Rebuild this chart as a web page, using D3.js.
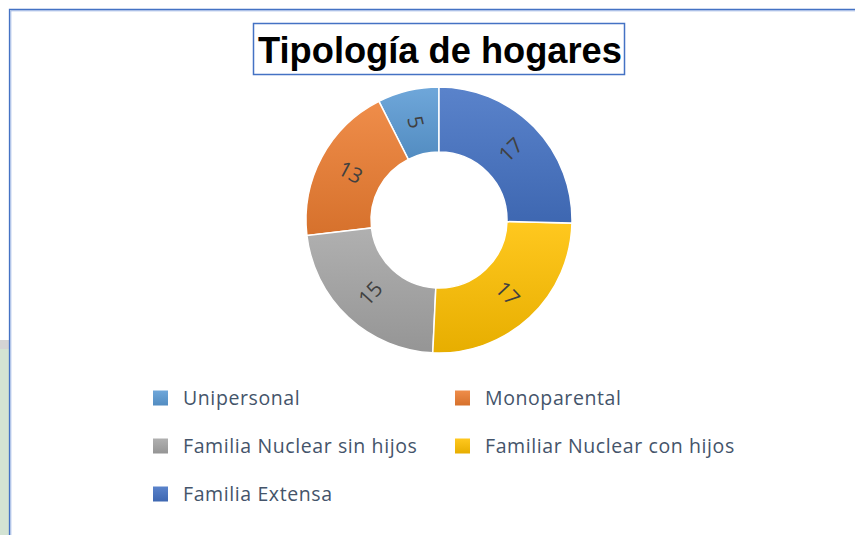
<!DOCTYPE html>
<html>
<head>
<meta charset="utf-8">
<script src="https://cdn.jsdelivr.net/npm/d3@7"></script>
<style>
  body { margin: 0; background: #fff; }
  svg { display: block; }
</style>
</head>
<body>
<svg id="chart"></svg>
<script>
const title = "Tipología de hogares";
const categories = ["Unipersonal", "Monoparental", "Familia Nuclear sin hijos", "Familiar Nuclear con hijos", "Familia Extensa"];
const values = [5, 13, 15, 17, 17];
const palette = ["#5b9bd5", "#ed7d31", "#a5a5a5", "#ffc000", "#4472c4"];

const width = 855, height = 535;
const cx = 439, cy = 220;
const outerR = 133, innerR = 68;

const svg = d3.select("#chart").attr("width", width).attr("height", height);

// frame of the chart area
svg.append("rect").attr("x", 0).attr("y", 348).attr("width", 9).attr("height", 187).attr("fill", "#d3e3d3");
svg.append("rect").attr("x", 0).attr("y", 340).attr("width", 9).attr("height", 9).attr("fill", "#d4d4d4");
svg.append("path").attr("d", `M9.5,${height} V9.5 H${width}`).attr("fill", "none").attr("stroke", "#4472c4").attr("stroke-width", 1.3);
svg.append("path").attr("d", `M10.8,${height} V10.8 H${width}`).attr("fill", "none").attr("stroke", "#9db5e3").attr("stroke-width", 1);

// gradients
const defs = svg.append("defs");
palette.forEach((c, i) => {
    const g = defs.append("linearGradient").attr("id", "grad" + i)
        .attr("x1", 0).attr("y1", 0).attr("x2", 0).attr("y2", 1);
    g.append("stop").attr("offset", "0%").attr("stop-color", d3.interpolateRgb(c, "#fff")(0.12));
    g.append("stop").attr("offset", "100%").attr("stop-color", d3.color(c).darker(0.28));
});

// title
const tg = svg.append("g");
const tt = tg.append("text")
    .attr("x", 440).attr("y", 63)
    .attr("text-anchor", "middle")
    .attr("font-family", "Liberation Sans, Arial, sans-serif")
    .attr("font-weight", "bold")
    .attr("font-size", 34)
    .attr("fill", "#000")
    .text(title);
const tw = tt.node().getComputedTextLength();
tt.attr("font-size", 34 * 364 / tw);
tg.insert("rect", "text")
    .attr("x", 253.5).attr("y", 23.5).attr("width", 371).attr("height", 51)
    .attr("fill", "#fff").attr("stroke", "#4472c4").attr("stroke-width", 1.5);

// donut
const pie = d3.pie().sort(null).startAngle(0).endAngle(-2 * Math.PI);
const arcs = pie(values);
const arc = d3.arc().innerRadius(innerR).outerRadius(outerR);

const donut = svg.append("g").attr("transform", `translate(${cx},${cy})`);
donut.selectAll("path.slice")
    .data(arcs)
    .join("path")
    .attr("class", "slice")
    .attr("d", arc)
    .attr("fill", (d, i) => `url(#grad${i})`)
    .attr("stroke", "#fff")
    .attr("stroke-width", 1.5);

donut.selectAll("text.lbl")
    .data(arcs)
    .join("text")
    .attr("class", "lbl")
    .attr("transform", d => {
        const [x, y] = arc.centroid(d);
        let a = ((d.startAngle + d.endAngle) / 2) * 180 / Math.PI;
        while (a <= -180) a += 360;
        while (a > 180) a -= 360;
        const rot = a > 0 ? a - 90 : a + 90;
        return `translate(${x},${y}) rotate(${rot})`;
    })
    .attr("text-anchor", "middle")
    .attr("dy", "0.35em")
    .attr("font-family", "Open Sans, sans-serif")
    .attr("font-size", 21)
    .attr("fill", "#404040")
    .text(d => d.data);

// legend
const legX = [153, 455];
const legY = [398, 446, 494];
const leg = svg.append("g");
categories.forEach((name, i) => {
    const x = legX[i % 2], y = legY[Math.floor(i / 2)];
    leg.append("rect").attr("x", x).attr("y", y - 7.5).attr("width", 15).attr("height", 15)
        .attr("fill", `url(#grad${i})`);
    leg.append("text").attr("x", x + 30).attr("y", y).attr("dy", "0.35em")
        .attr("font-family", "Open Sans, sans-serif")
        .attr("font-size", 19.5)
        .attr("letter-spacing", 0.6)
        .attr("fill", "#44546a")
        .text(name);
});
</script>
</body>
</html>
